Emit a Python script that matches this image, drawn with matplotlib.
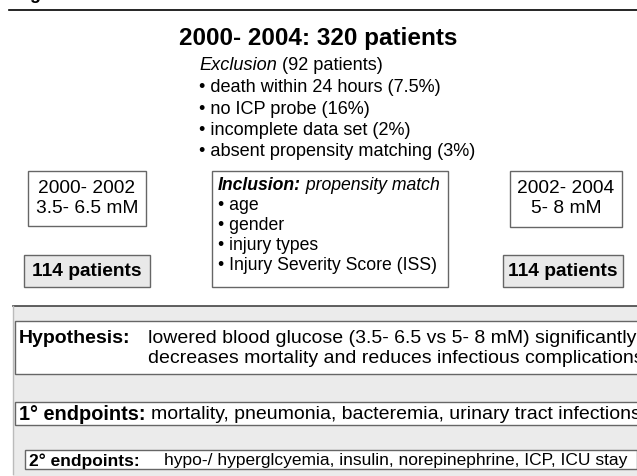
import matplotlib
matplotlib.use("Agg")
import matplotlib.pyplot as plt
from matplotlib.patches import Rectangle

plt.rcParams['font.family'] = ['Liberation Sans', 'DejaVu Sans']

title = "2000- 2004: 320 patients"
exclusion_head = [("Exclusion", "italic", "normal"), (" (92 patients)", "normal", "normal")]
exclusion_items = ["• death within 24 hours (7.5%)", "• no ICP probe (16%)",
                   "• incomplete data set (2%)", "• absent propensity matching (3%)"]
inclusion_head = [("Inclusion:", "italic", "bold"), (" propensity match", "italic", "normal")]
inclusion_items = ["• age", "• gender", "• injury types", "• Injury Severity Score (ISS)"]
left_group = ["2000- 2002", "3.5- 6.5 mM"]
right_group = ["2002- 2004", "5- 8 mM"]
group_n = "114 patients"
hypothesis_label = "Hypothesis:"
hypothesis_text = ["lowered blood glucose (3.5- 6.5 vs 5- 8 mM) significantly",
                   "decreases mortality and reduces infectious complications"]
primary_label = "1° endpoints:"
primary_text = "mortality, pneumonia, bacteremia, urinary tract infections"
secondary_label = "2° endpoints:"
secondary_text = "hypo-/ hyperglcyemia, insulin, norepinephrine, ICP, ICU stay"

W, H = 637, 477
fig = plt.figure(figsize=(W / 100, H / 100), dpi=100)
ax = fig.add_axes([0, 0, 1, 1])
ax.set_xlim(0, W)
ax.set_ylim(H, 0)
ax.axis('off')
renderer = fig.canvas.get_renderer()


def runs(x, y, parts, size, **kw):
    for txt, style, weight in parts:
        t = ax.text(x, y, txt, fontsize=size, style=style, weight=weight,
                    va='center', ha='left', **kw)
        bb = t.get_window_extent(renderer)
        x += bb.width


def box(x0, y0, x1, y1, fc='white', ec='#666666', lw=1.0, z=1):
    ax.add_patch(Rectangle((x0, y0), x1 - x0, y1 - y0, facecolor=fc,
                           edgecolor=ec, linewidth=lw, zorder=z, clip_on=False))


# header (figure label clipped at the top edge) and rule
ax.text(14, -1, "Figure 1", fontsize=13, weight='bold', va='baseline', ha='left')
ax.plot([9, W], [11, 11], color='black', lw=1.2)

# title
ax.text(318, 45, title, fontsize=17.5, weight='bold', ha='center', va='baseline')

# exclusion
EX_FS = 13.1
ex_x, ex_y, step = 199, 66, 21.5
runs(ex_x, ex_y, exclusion_head, EX_FS)
for i, s in enumerate(exclusion_items):
    ax.text(ex_x, ex_y + step * (i + 1), s, fontsize=EX_FS, va='center', ha='left')

# group boxes
GFS = 13.8
box(28, 172, 146, 227)
for i, s in enumerate(left_group):
    ax.text(87, 189 + 20 * i, s, fontsize=GFS, ha='center', va='center', zorder=3)
box(24, 256, 150, 288, fc='#e9e9e9')
ax.text(87, 272, group_n, fontsize=GFS, weight='bold', ha='center', va='center', zorder=3)

box(510, 172, 622, 228)
for i, s in enumerate(right_group):
    ax.text(566, 189 + 20 * i, s, fontsize=GFS, ha='center', va='center', zorder=3)
box(503, 256, 623, 288, fc='#e9e9e9')
ax.text(563, 272, group_n, fontsize=GFS, weight='bold', ha='center', va='center', zorder=3)

# inclusion
IN_FS = 12.7
box(212, 172, 448, 288)
runs(218, 186, inclusion_head, IN_FS, zorder=3)
for i, s in enumerate(inclusion_items):
    ax.text(218, 206 + 20 * i, s, fontsize=IN_FS, va='center', ha='left', zorder=3)

# bottom panel
ax.add_patch(Rectangle((13, 307), W - 13 + 5, H - 307 + 5, facecolor='#ebebeb',
                       edgecolor='none', zorder=0, clip_on=False))
ax.plot([13, W], [307, 307], color='#444444', lw=1.2, zorder=1)
ax.plot([13, 13], [307, 475], color='#bbbbbb', lw=1.0, zorder=1)

BFS = 14.0
box(15, 322, W + 5, 375)
ax.text(19, 339, hypothesis_label, fontsize=BFS, weight='bold', va='center', ha='left', zorder=3)
for i, s in enumerate(hypothesis_text):
    ax.text(148, 339 + 19.5 * i, s, fontsize=BFS, va='center', ha='left', zorder=3)

box(15, 403, W + 5, 426)
ax.text(19, 414.5, primary_label, fontsize=14.4, weight='bold', va='center', ha='left', zorder=3)
ax.text(151, 414.5, primary_text, fontsize=BFS, va='center', ha='left', zorder=3)

SFS = 12.5
box(25, 451, 636.5, 470)
ax.text(29, 461, secondary_label, fontsize=SFS, weight='bold', va='center', ha='left', zorder=3)
ax.text(164, 461, secondary_text, fontsize=SFS, va='center', ha='left', zorder=3)

fig.savefig("out.png", dpi=100)
